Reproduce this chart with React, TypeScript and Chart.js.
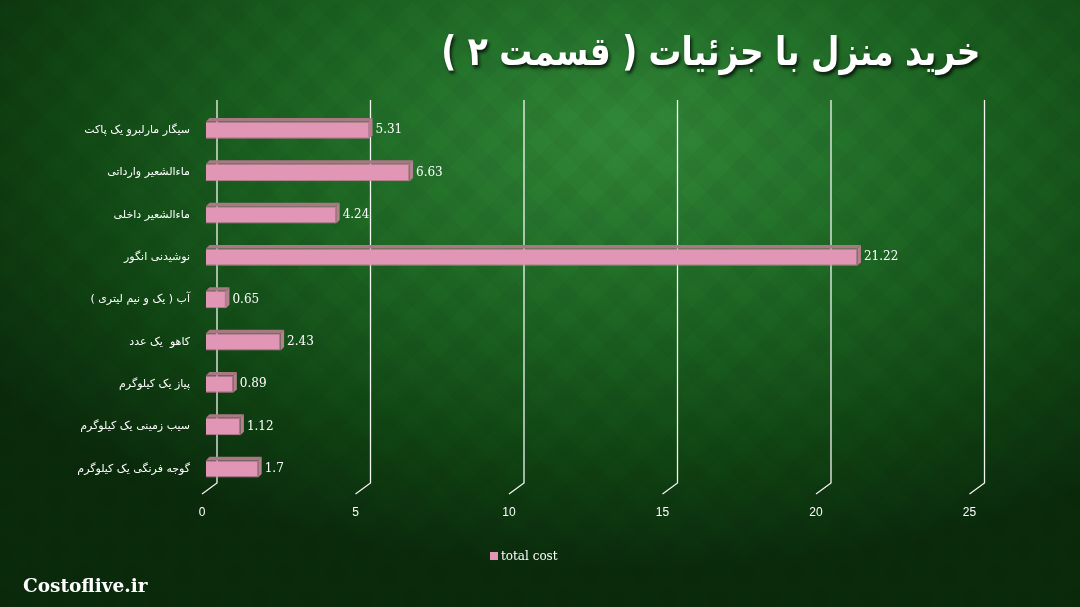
import React, { useEffect, useRef } from "react";
import { Chart, registerables } from "chart.js";

Chart.register(...registerables);

const categories = [
  "سیگار مارلبرو یک پاکت",
  "ماءالشعیر وارداتی",
  "ماءالشعیر داخلی",
  "نوشیدنی انگور",
  "آب ( یک و نیم لیتری )",
  "کاهو  یک عدد",
  "پیاز یک کیلوگرم",
  "سیب زمینی یک کیلوگرم",
  "گوجه فرنگی یک کیلوگرم",
];
const totalCost = [5.31, 6.63, 4.24, 21.22, 0.65, 2.43, 0.89, 1.12, 1.7];
const xTicks = [0, 5, 10, 15, 20, 25];
const seriesLabel = "total cost";
const chartTitle = "خرید منزل با جزئیات ( قسمت ۲ )";
const siteName = "Costoflive.ir";

const FRONT = "#e296b5";
const TOP = "#a87884";
const SIDE = "#b5808f";
const DEPTH = 3.5;

const bar3dPlugin = {
  id: "bar3d",
  beforeDatasetsDraw(chart: any) {
    const { ctx, chartArea, scales } = chart;
    const xs = scales.x;
    ctx.save();
    ctx.strokeStyle = "rgba(255,255,255,0.95)";
    ctx.lineWidth = 1.3;
    xTicks.forEach((v) => {
      const p = xs.getPixelForValue(v);
      ctx.beginPath();
      ctx.moveTo(p + 11, chartArea.top - 9);
      ctx.lineTo(p + 11, chartArea.bottom - 7);
      ctx.lineTo(p - 4, chartArea.bottom + 4);
      ctx.stroke();
    });
    ctx.restore();
  },
  afterDatasetsDraw(chart: any) {
    const { ctx } = chart;
    const meta = chart.getDatasetMeta(0);
    ctx.save();
    meta.data.forEach((bar: any, i: number) => {
      const x0 = bar.base;
      const x1 = bar.x;
      const top = bar.y - bar.height / 2;
      const bottom = bar.y + bar.height / 2;
      ctx.fillStyle = TOP;
      ctx.beginPath();
      ctx.moveTo(x0, top);
      ctx.lineTo(x0 + DEPTH, top - DEPTH);
      ctx.lineTo(x1 + DEPTH, top - DEPTH);
      ctx.lineTo(x1, top);
      ctx.closePath();
      ctx.fill();
      ctx.fillStyle = SIDE;
      ctx.beginPath();
      ctx.moveTo(x1, top);
      ctx.lineTo(x1 + DEPTH, top - DEPTH);
      ctx.lineTo(x1 + DEPTH, bottom - DEPTH);
      ctx.lineTo(x1, bottom);
      ctx.closePath();
      ctx.fill();
      ctx.fillStyle = "#ffffff";
      ctx.font = "12px 'DejaVu Serif'";
      ctx.textAlign = "left";
      ctx.textBaseline = "middle";
      ctx.fillText(String(totalCost[i]), x1 + DEPTH + 3, bar.y);
    });
    const ds = chart.data.datasets[0];
    ctx.fillStyle = ds.backgroundColor;
    ctx.fillRect(490, 552, 8, 8);
    ctx.fillStyle = "#ffffff";
    ctx.font = "12px 'DejaVu Serif'";
    ctx.textAlign = "left";
    ctx.textBaseline = "middle";
    ctx.fillText(ds.label, 501, 557);
    ctx.restore();
  },
};

function ChartCanvas() {
  const ref = useRef<HTMLCanvasElement | null>(null);
  useEffect(() => {
    if (!ref.current) return;
    const chart = new Chart(ref.current, {
      type: "bar",
      data: {
        labels: categories,
        datasets: [
          {
            label: seriesLabel,
            data: totalCost,
            backgroundColor: FRONT,
            borderColor: "#c27d98",
            borderWidth: 1,
            barPercentage: 0.41,
            categoryPercentage: 1,
          },
        ],
      },
      options: {
        indexAxis: "y",
        animation: false,
        responsive: false,
        layout: { padding: { top: 109, right: 106.5, left: 0, bottom: 0 } },
        plugins: {
          legend: { display: false },
          tooltip: { enabled: false },
        },
        scales: {
          x: {
            min: 0,
            max: 25,
            afterFit: (s: any) => {
              s.height = 117;
            },
            afterBuildTicks: (s: any) => {
              s.ticks = xTicks.map((v) => ({ value: v }));
            },
            grid: { display: false, drawTicks: false },
            border: { display: false },
            ticks: {
              color: "#ffffff",
              font: { family: "'Liberation Sans', Arial", size: 12 },
              padding: 15,
              labelOffset: -4,
            },
          },
          y: {
            afterFit: (s: any) => {
              s.width = 206;
            },
            grid: { display: false, drawTicks: false },
            border: { display: false },
            ticks: {
              color: "#ffffff",
              font: { family: "'DejaVu Sans'", size: 11 },
              padding: 16,
            },
          },
        },
      },
      plugins: [bar3dPlugin],
    });
    return () => chart.destroy();
  }, []);
  return (
    <canvas
      ref={ref}
      width={1080}
      height={607}
      style={{ position: "absolute", left: 0, top: 0, width: 1080, height: 607, direction: "rtl" }}
    />
  );
}

export default function App() {
  return (
    <div
      style={{
        position: "fixed",
        left: 0,
        top: 0,
        width: 1080,
        height: 607,
        overflow: "hidden",
        background:
          "repeating-linear-gradient(45deg, rgba(0,0,0,0.03) 0px, rgba(0,0,0,0.03) 18px, rgba(0,0,0,0) 18px, rgba(0,0,0,0) 36px), repeating-linear-gradient(-45deg, rgba(0,0,0,0.03) 0px, rgba(0,0,0,0.03) 18px, rgba(0,0,0,0) 18px, rgba(0,0,0,0) 36px), radial-gradient(ellipse 72% 72% at 58% 22%, #32893a 0%, #25752c 25%, #1a5f1f 50%, #0f4112 78%, #0a2b0b 100%)",
      }}
    >
      <div
        dir="rtl"
        style={{
          position: "absolute",
          right: 100,
          top: 20,
          fontFamily: "'DejaVu Sans', sans-serif",
          fontWeight: 700,
          fontSize: 40,
          lineHeight: "62px",
          color: "#ffffff",
          textShadow: "2px 3px 4px rgba(0,0,0,0.75)",
          whiteSpace: "nowrap",
          transform: "scaleX(0.82)",
          transformOrigin: "right center",
        }}
      >
        {chartTitle}
      </div>
      <div
        style={{
          position: "absolute",
          left: 23,
          top: 573,
          fontFamily: "'DejaVu Serif', serif",
          fontWeight: 700,
          fontSize: 18.5,
          lineHeight: "26px",
          color: "#ffffff",
          whiteSpace: "nowrap",
        }}
      >
        {siteName}
      </div>
      <ChartCanvas />
    </div>
  );
}
